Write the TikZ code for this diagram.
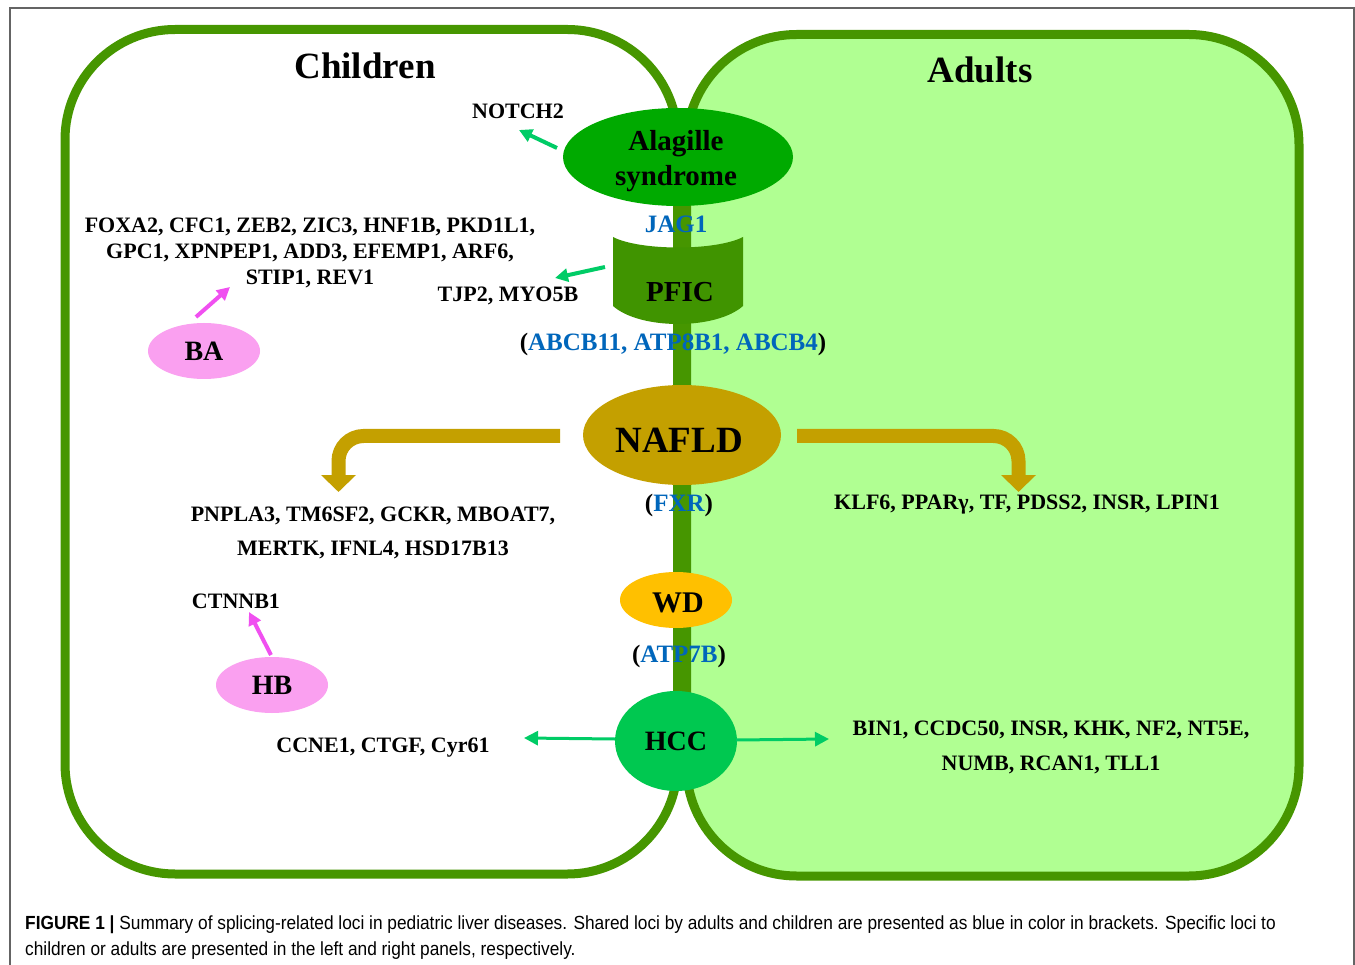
\documentclass[tikz,border=0pt]{standalone}
\usepackage{fontspec}
\setmainfont{Liberation Serif}
\newfontfamily\capfont{Liberation Sans}
\usetikzlibrary{arrows.meta,shapes.geometric}
\definecolor{panelgreen}{RGB}{70,150,0}
\definecolor{adultfill}{RGB}{176,255,146}
\definecolor{alagreen}{RGB}{0,170,0}
\definecolor{pficgreen}{RGB}{64,148,0}
\definecolor{naflgold}{RGB}{196,160,0}
\definecolor{wdorange}{RGB}{255,192,0}
\definecolor{hccgreen}{RGB}{0,200,80}
\definecolor{arrowgreen}{RGB}{0,204,102}
\definecolor{bapink}{RGB}{250,160,240}
\definecolor{magarrow}{RGB}{240,80,240}
\definecolor{locusblue}{RGB}{0,102,187}
\definecolor{framegray}{RGB}{100,100,100}
\begin{document}
\begin{tikzpicture}[x=1pt,y=-1pt,
  panel/.style={line width=9pt, draw=panelgreen, rounded corners=110pt},
  disease/.style={ellipse, inner sep=0pt, text=black},
  gene/.style={font=\bfseries\fontsize{22}{26}\selectfont, align=center, inner sep=0pt},
  shared/.style={font=\bfseries\fontsize{25}{30}\selectfont, inner sep=0pt},
  title/.style={font=\bfseries\fontsize{37}{44}\selectfont, inner sep=0pt},
  garrow/.style={draw=arrowgreen, line width=4pt, -{Triangle[length=13pt,width=13pt]}},
  harrow/.style={draw=arrowgreen, line width=3pt, -{Triangle[length=14pt,width=14pt]}},
  marrow/.style={draw=magarrow, line width=4pt, -{Triangle[length=13pt,width=13pt]}},
  goldarrow/.style={draw=naflgold, line width=14pt, rounded corners=25pt, -{Triangle[length=17pt,width=34pt]}},
  caption/.style={font=\capfont\fontsize{19}{23}\selectfont, anchor=west, inner sep=0pt}
]
\useasboundingbox (0,0) rectangle (1355,965);
% frame
\draw[framegray, line width=1.5pt] (10,965) -- (10,8) -- (1354,8) -- (1354,965);
% panels
\draw[panel, fill=white] (65,29.5) rectangle (677.5,874);
\draw[panel, fill=adultfill] (686.5,34.5) rectangle (1299,876);
% titles
\node[title] (children) at (365,66) {Children};
\node[title] (adults) at (980,70) {Adults};
% Alagille
\node[disease, fill=alagreen, minimum width=230pt, minimum height=98pt] (ala) at (678,157) {};
\node[font=\bfseries\fontsize{29}{35}\selectfont, align=center, inner sep=0pt] (alatext) at (676,161) {Alagille\\syndrome};
\node[gene] (notch) at (518,111) {NOTCH2};
\coordinate (notchs) at (557,148);
\coordinate (notche) at (519,130);
\draw[garrow] (notchs) -- (notche);
% PFIC
\fill[pficgreen] (613,237) .. controls (640,251) and (716,251) .. (743,237)
  -- (743,306) .. controls (716,330) and (640,330) .. (613,306) -- cycle;
\node[shared, text=locusblue] (jag) at (676,224) {JAG1};
\node[font=\bfseries\fontsize{29}{35}\selectfont, inner sep=0pt] (pfic) at (680,292) {PFIC};
\coordinate (pfics) at (605,267);
\coordinate (pfice) at (555,278);
\draw[garrow] (pfics) -- (pfice);
\node[gene] (tjp) at (508,296) {TJP2, MYO5B};
\node[shared] (abcb) at (673,344) {(\textcolor{locusblue}{ABCB11, ATP8B1, ABCB4})};
% BA
\node[gene] (bagenes) at (310,253) {FOXA2, CFC1, ZEB2, ZIC3, HNF1B, PKD1L1,\\GPC1, XPNPEP1, ADD3, EFEMP1, ARF6,\\STIP1, REV1};
\node[disease, fill=bapink, minimum width=112pt, minimum height=56pt,
  font=\bfseries\fontsize{28}{33}\selectfont] (ba) at (204,351) {BA};
\coordinate (bas) at (196,317);
\coordinate (bae) at (230,287);
\draw[marrow] (bas) -- (bae);
% NAFLD
\node[disease, fill=naflgold, minimum width=198pt, minimum height=100pt] (nafld) at (682,435) {};
\node[font=\bfseries\fontsize{37}{44}\selectfont, inner sep=0pt] (nafldtext) at (679,440) {NAFLD};
\coordinate (nl1) at (560,436);
\coordinate (nl2) at (338.5,436);
\coordinate (nl3) at (338.5,492);
\draw[goldarrow] (nl1) -- (nl2) -- (nl3);
\coordinate (nr1) at (797,436);
\coordinate (nr2) at (1018.5,436);
\coordinate (nr3) at (1018.5,492);
\draw[goldarrow] (nr1) -- (nr2) -- (nr3);
\node[gene] (naflleft) at (373,533) {PNPLA3, TM6SF2, GCKR, MBOAT7,\\[8pt]MERTK, IFNL4, HSD17B13};
\node[shared] (fxr) at (679,505) {(\textcolor{locusblue}{FXR})};
\node[gene] (naflright) at (1027,505) {KLF6, PPARγ, TF, PDSS2, INSR, LPIN1};
% HB
\node[gene] (ctnnb) at (236,601) {CTNNB1};
\node[disease, fill=bapink, minimum width=112pt, minimum height=56pt,
  font=\bfseries\fontsize{28}{33}\selectfont] (hb) at (272,685) {HB};
\coordinate (hbs) at (271,655);
\coordinate (hbe) at (249,612);
\draw[marrow] (hbs) -- (hbe);
% WD
\node[disease, fill=wdorange, minimum width=112pt, minimum height=56pt] (wd) at (676,600) {};
\node[font=\bfseries\fontsize{30}{36}\selectfont, inner sep=0pt] (wdtext) at (678,603) {WD};
\node[shared] (atp) at (679,656) {(\textcolor{locusblue}{ATP7B})};
% HCC
\node[disease, fill=hccgreen, minimum width=122pt, minimum height=100pt,
  font=\bfseries\fontsize{28}{33}\selectfont] (hcc) at (676,741) {HCC};
\coordinate (hls) at (615,739);
\coordinate (hle) at (524,738);
\draw[harrow] (hls) -- (hle);
\coordinate (hrs) at (736,740);
\coordinate (hre) at (829,739);
\draw[harrow] (hrs) -- (hre);
\node[gene] (hccleft) at (383,748) {CCNE1, CTGF, Cyr61};
\node[gene] (hccright) at (1051,747) {BIN1, CCDC50, INSR, KHK, NF2, NT5E,\\[9pt]NUMB, RCAN1, TLL1};
% caption
\node[caption] (cap1) at (25,925) {\scalebox{0.91}[1]{\textbf{FIGURE 1 |} Summary of splicing-related loci in pediatric liver diseases. Shared loci by adults and children are presented as blue in color in brackets. Specific loci to}};
\node[caption] (cap2) at (25,951) {\scalebox{0.91}[1]{children or adults are presented in the left and right panels, respectively.}};
\end{tikzpicture}
\end{document}
